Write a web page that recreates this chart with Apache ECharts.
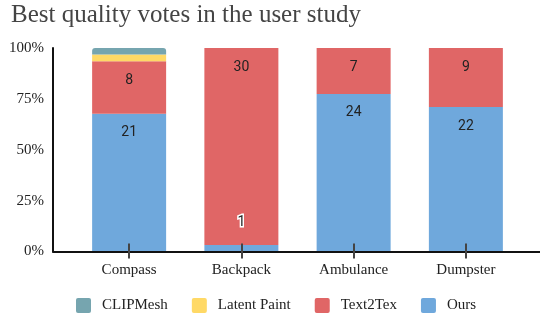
<!DOCTYPE html>
<html>
<head>
<meta charset="utf-8">
<script src="https://cdn.jsdelivr.net/npm/echarts@6/dist/echarts.min.js"></script>
<style>
  html, body { margin: 0; padding: 0; background: #fff; }
  #chart { width: 540px; height: 317px; }
</style>
</head>
<body>
<div id="chart"></div>
<script>
var chart = echarts.init(document.getElementById('chart'));

// vote counts per object
var categories = ['Compass', 'Backpack', 'Ambulance', 'Dumpster'];
var ours = [21, 1, 24, 22];
var text2tex = [8, 30, 7, 9];
var latentPaint = [1, 0, 0, 0];
var clipMesh = [1, 0, 0, 0];
var yTicks = [0, 25, 50, 75, 100];

// colours (sheets palette)
var colorList = {
    'Ours': '#6fa8dc',
    'Text2Tex': '#e06666',
    'Latent Paint': '#ffd966',
    'CLIPMesh': '#76a5af'
};

var totals = categories.map(function (c, i) {
    return ours[i] + text2tex[i] + latentPaint[i] + clipMesh[i];
});

function toPercent(counts) {
    return counts.map(function (v, i) {
        return { value: v / totals[i] * 100, count: v };
    });
}

var serif = 'Liberation Serif';
var labelStyle = {
    show: true,
    position: 'insideTop',
    distance: 12,
    fontFamily: 'Roboto',
    fontSize: 14,
    color: '#222',
    formatter: function (p) { return p.data.count; }
};

var oursData = toPercent(ours);
// the tiny Backpack bar gets its label above it
oursData[1].label = {
    position: 'top',
    distance: 15,
    textBorderColor: '#fff',
    textBorderWidth: 3
};

function makeSeries(name, data, showLabel, radius) {
    return {
        name: name,
        type: 'bar',
        stack: 'votes',
        xAxisIndex: 0,
        yAxisIndex: 0,
        barWidth: 74,
        itemStyle: { color: colorList[name], borderRadius: radius || 0 },
        label: showLabel ? labelStyle : { show: false },
        emphasis: { disabled: true },
        data: data
    };
}

var option = {
    animation: false,
    title: {
        text: 'Best quality votes in the user study',
        left: 6,
        top: 0,
        padding: [3, 5],
        textStyle: { fontFamily: serif, fontSize: 25, fontWeight: 'normal', color: '#444' }
    },
    legend: {
        top: 298,
        left: 76,
        padding: 0,
        itemGap: 24,
        itemWidth: 15,
        itemHeight: 15,
        icon: 'path://M2,0 L13,0 Q15,0 15,2 L15,13 Q15,15 13,15 L2,15 Q0,15 0,13 L0,2 Q0,0 2,0 Z',
        data: ['CLIPMesh', 'Latent Paint', 'Text2Tex', 'Ours'],
        textStyle: { fontFamily: serif, fontSize: 15, color: '#222', padding: [0, 0, 0, 6] }
    },
    grid: [
        { left: 73, right: 18, top: 48, bottom: 65.5 },
        { left: 53, right: 0, top: 48, bottom: 65.5 }
    ],
    xAxis: [{
        type: 'category',
        gridIndex: 0,
        data: categories,
        offset: -8,
        z: 5,
        axisLine: { show: false },
        axisTick: { show: true, alignWithLabel: true, length: 15, lineStyle: { color: '#444', width: 2 } },
        axisLabel: { margin: 19, fontFamily: serif, fontSize: 15, color: '#222' },
        splitLine: { show: false }
    }, {
        type: 'value',
        gridIndex: 1,
        min: 0,
        max: 1,
        z: 4,
        axisLine: { show: true, lineStyle: { color: '#111', width: 2 } },
        axisTick: { show: false },
        axisLabel: { show: false },
        splitLine: { show: false }
    }],
    yAxis: [{
        type: 'value',
        gridIndex: 0,
        min: 0,
        max: 100,
        show: false
    }, {
        type: 'value',
        gridIndex: 1,
        min: yTicks[0],
        max: yTicks[yTicks.length - 1],
        interval: 25,
        axisLine: { show: true, lineStyle: { color: '#111', width: 2 } },
        axisTick: { show: false },
        axisLabel: { margin: 9, fontFamily: serif, fontSize: 15, color: '#222', formatter: '{value}%' },
        splitLine: { show: false }
    }],
    series: [
        makeSeries('Ours', oursData, true),
        makeSeries('Text2Tex', toPercent(text2tex), true),
        makeSeries('Latent Paint', toPercent(latentPaint), false),
        makeSeries('CLIPMesh', toPercent(clipMesh), false, [3, 3, 0, 0])
    ]
};

chart.setOption(option);
</script>
</body>
</html>
